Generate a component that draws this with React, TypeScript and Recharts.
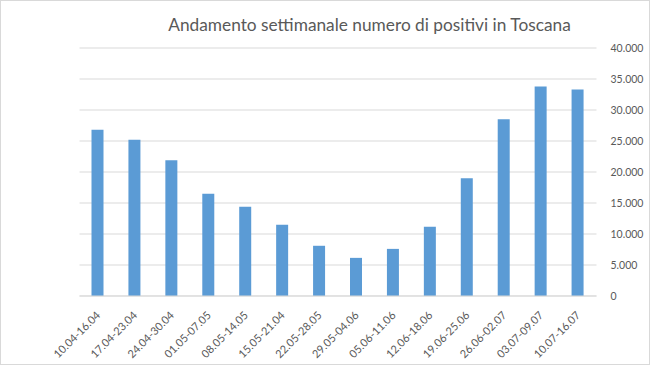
import React from "react";
import { BarChart, Bar, XAxis, YAxis, CartesianGrid } from "recharts";

const weeks = [
  "10.04-16.04", "17.04-23.04", "24.04-30.04", "01.05-07.05", "08.05-14.05",
  "15.05-21.04", "22.05-28.05", "29.05-04.06", "05.06-11.06", "12.06-18.06",
  "19.06-25.06", "26.06-02.07", "03.07-09.07", "10.07-16.07",
];
const positives = [
  26800, 25200, 21900, 16500, 14400, 11500, 8100, 6150, 7600, 11150, 19000, 28500, 33800, 33300,
];
const yTicks = [0, 5000, 10000, 15000, 20000, 25000, 30000, 35000, 40000];
const title = "Andamento settimanale numero di positivi in Toscana";

const data = weeks.map((w, i) => ({ week: w, value: positives[i] }));

const FONT = "Lato, 'Open Sans', sans-serif";
const GREY = "#595959";

const fmt = (v: number) => v.toString().replace(/\B(?=(\d{3})+(?!\d))/g, ".");

const XTick = (props: any) => {
  const { x, y, payload } = props;
  return (
    <g transform={`translate(${x + 3},${y + 12})`}>
      <text
        x={0}
        y={0}
        textAnchor="end"
        transform="rotate(-45)"
        fill={GREY}
        fontSize={11}
        fontFamily={FONT}
      >
        {payload.value}
      </text>
    </g>
  );
};

export default function App() {
  return (
    <div style={{ position: "absolute", left: 0, top: 0, width: 650, height: 365, background: "#fff" }}>
      <div
        style={{
          position: "absolute",
          left: 0,
          top: 0,
          width: 648,
          height: 363,
          border: "1px solid #d9d9d9",
        }}
      />
      <div
        style={{
          position: "absolute",
          left: 0,
          top: 14,
          width: 739,
          textAlign: "center",
          fontFamily: FONT,
          fontSize: 17.3,
          color: GREY,
          whiteSpace: "nowrap",
        }}
      >
        {title}
      </div>
      <BarChart
        width={650}
        height={365}
        data={data}
        margin={{ top: 48, right: 0, left: 79.5, bottom: 0 }}
        barCategoryGap="33%"
      >
        <CartesianGrid vertical={false} stroke="#d9d9d9" />
        <XAxis
          dataKey="week"
          interval={0}
          height={69}
          tickLine={false}
          axisLine={{ stroke: "#d9d9d9" }}
          tick={<XTick />}
        />
        <YAxis
          orientation="right"
          width={53.5}
          domain={[0, 40000]}
          ticks={yTicks}
          tickFormatter={fmt}
          axisLine={false}
          tickLine={false}
          tickMargin={8}
          tick={{ fill: GREY, fontSize: 10.5, fontFamily: FONT, textAnchor: "start" }}
        />
        <Bar dataKey="value" fill="#5B9BD5" isAnimationActive={false} barSize={12} />
      </BarChart>
    </div>
  );
}
